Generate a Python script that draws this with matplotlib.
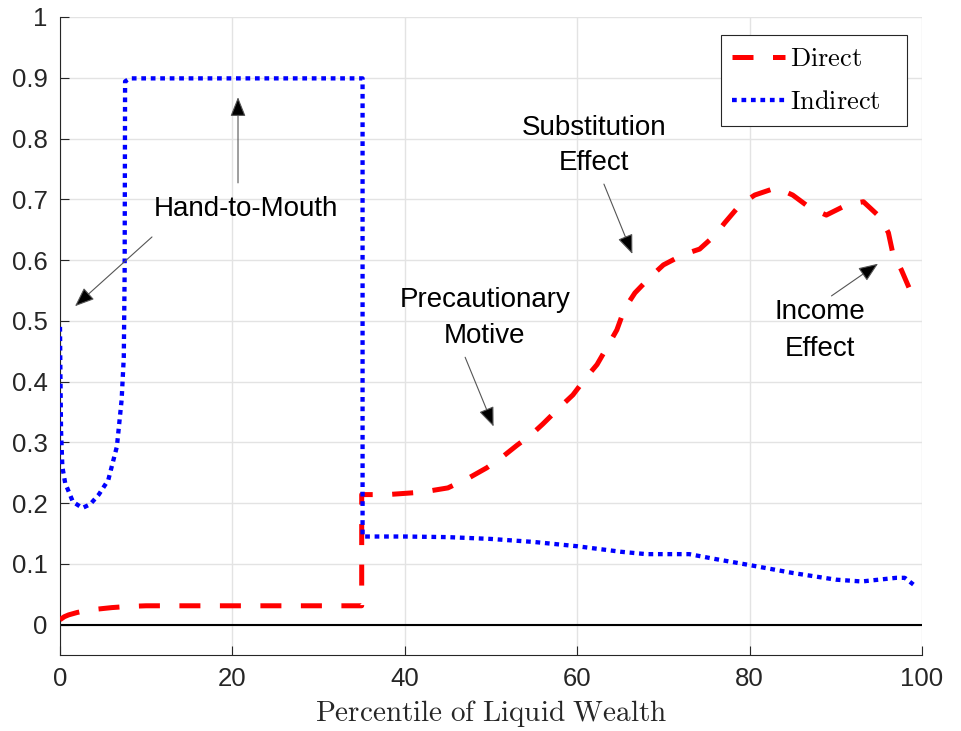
import matplotlib
matplotlib.use("Agg")
import matplotlib.pyplot as plt

plt.rcParams['mathtext.fontset'] = 'cm'

# ---- data ----
direct_x = [0, 0.5, 1, 2, 3, 4, 6, 8, 10, 35, 35, 38, 42, 45, 47.5, 49.5, 51.5, 53, 54.7, 56,
            58, 59.5, 61, 62.3, 63.6, 64.6, 65.5, 66.7, 68.4, 70, 72.3, 74.2, 76, 77.1, 78.9,
            80.6, 83.1, 85, 87, 88.9, 91.3, 93.2, 95.1, 96.1, 96.6, 97.6, 98.6, 99.4]
direct_y = [0.008, 0.013, 0.016, 0.020, 0.023, 0.025, 0.028, 0.030, 0.031, 0.031, 0.214, 0.214,
            0.218, 0.225, 0.242, 0.258, 0.278, 0.295, 0.313, 0.330, 0.358, 0.378, 0.406,
            0.428, 0.46, 0.485, 0.52, 0.546, 0.571, 0.592, 0.609, 0.618, 0.641, 0.661, 0.691,
            0.707, 0.719, 0.707, 0.686, 0.674, 0.691, 0.696, 0.671, 0.645, 0.612, 0.584,
            0.551, 0.548]

indirect_x = [0, 0.05, 0.12, 0.27, 0.6, 1.5, 2.6, 3.5, 4.5, 5.6, 6.6, 7.15, 7.4, 7.5, 7.55,
              8.1, 35.1, 35.1, 40, 45, 50, 55, 60, 65, 68, 73, 76, 80, 85, 90, 93, 95, 97,
              98, 99]
indirect_y = [0.49, 0.41, 0.32, 0.26, 0.233, 0.202, 0.192, 0.198, 0.214, 0.238, 0.293, 0.37,
              0.44, 0.58, 0.894, 0.899, 0.899, 0.145, 0.145, 0.144, 0.141, 0.136, 0.129,
              0.12, 0.116, 0.116, 0.108, 0.098, 0.085, 0.074, 0.071, 0.074, 0.077, 0.077,
              0.066]

x_ticks = [0, 20, 40, 60, 80, 100]
y_ticks = [0, 0.1, 0.2, 0.3, 0.4, 0.5, 0.6, 0.7, 0.8, 0.9, 1]
y_tick_labels = ['0', '0.1', '0.2', '0.3', '0.4', '0.5', '0.6', '0.7', '0.8', '0.9', '1']

# annotations: (lines, x_center, baselines)
labels = [
    (['Hand-to-Mouth'], 21.6, [0.673]),
    (['Precautionary', 'Motive'], 49.3, [0.5235, 0.463]),
    (['Substitution', 'Effect'], 61.95, [0.806, 0.748]),
    (['Income', 'Effect'], 88.2, [0.503, 0.442]),
]
arrows = [  # (tail, tip)
    ((10.67, 0.638), (1.74, 0.524)),
    ((20.65, 0.727), (20.65, 0.868)),
    ((47.0, 0.44), (50.3, 0.326)),
    ((63.1, 0.725), (66.4, 0.61)),
    ((89.5, 0.541), (94.9, 0.594)),
]

# ---- figure ----
W, H = 962, 731
fig = plt.figure(figsize=(W / 100, H / 100), dpi=100)
ax = fig.add_axes([60 / W, 1 - 655 / H, 862 / W, (655 - 17) / H])

ax.axhline(0, color='black', lw=1.5, zorder=1)
ax.plot(direct_x, direct_y, color='#ff0000', lw=3.6, dashes=(4.2, 3.9),
        dash_capstyle='butt', label=r'$\mathrm{Direct}$', zorder=3)
ax.plot(indirect_x, indirect_y, color='#0000ff', lw=3.1, dashes=(1.1, 1.1),
        dash_capstyle='butt', label=r'$\mathrm{Indirect}$', zorder=4)

ax.set_xlim(0, 100)
ax.set_ylim(-0.05, 1)
ax.set_xticks(x_ticks)
ax.set_yticks(y_ticks)
ax.set_yticklabels(y_tick_labels)
ax.grid(True, color='#e3e3e3', lw=1.0)
ax.set_axisbelow(True)

tick_color = '#262626'
for s in ['top', 'right']:
    ax.spines[s].set_visible(False)
for s in ['left', 'bottom']:
    ax.spines[s].set_color(tick_color)
    ax.spines[s].set_linewidth(0.8)
ax.tick_params(direction='in', length=6.5, width=0.8, color=tick_color,
               labelcolor=tick_color, labelsize=18.5, pad=9)
for lab in ax.get_xticklabels() + ax.get_yticklabels():
    lab.set_family('Liberation Sans')

ax.set_xlabel(r'$\mathrm{Percentile\ of\ Liquid\ Wealth}$', fontsize=21,
              color=tick_color, labelpad=5)

leg = ax.legend(loc='upper left',
                bbox_to_anchor=(721 / W, 1 - 129 / H, 186 / W, 94 / H),
                bbox_transform=fig.transFigure, mode='expand', borderaxespad=0,
                fancybox=False, edgecolor='#262626', framealpha=1, fontsize=19,
                handlelength=2.0, handletextpad=0.2, labelspacing=0.65,
                borderpad=0.42)
leg.get_frame().set_linewidth(0.8)

for lines, xc, bases in labels:
    for txt, yb in zip(lines, bases):
        ax.text(xc, yb, txt, ha='center', va='baseline', fontsize=20,
                family='Liberation Sans', color='black', zorder=5)

for tail, tip in arrows:
    ax.annotate('', xy=tip, xytext=tail,
                arrowprops=dict(arrowstyle='-|>,head_length=0.6,head_width=0.24',
                                facecolor='black', edgecolor='#555555', lw=0.8,
                                shrinkA=0, shrinkB=0, mutation_scale=20),
                zorder=5)

fig.savefig('out.png', dpi=100, facecolor='white')
